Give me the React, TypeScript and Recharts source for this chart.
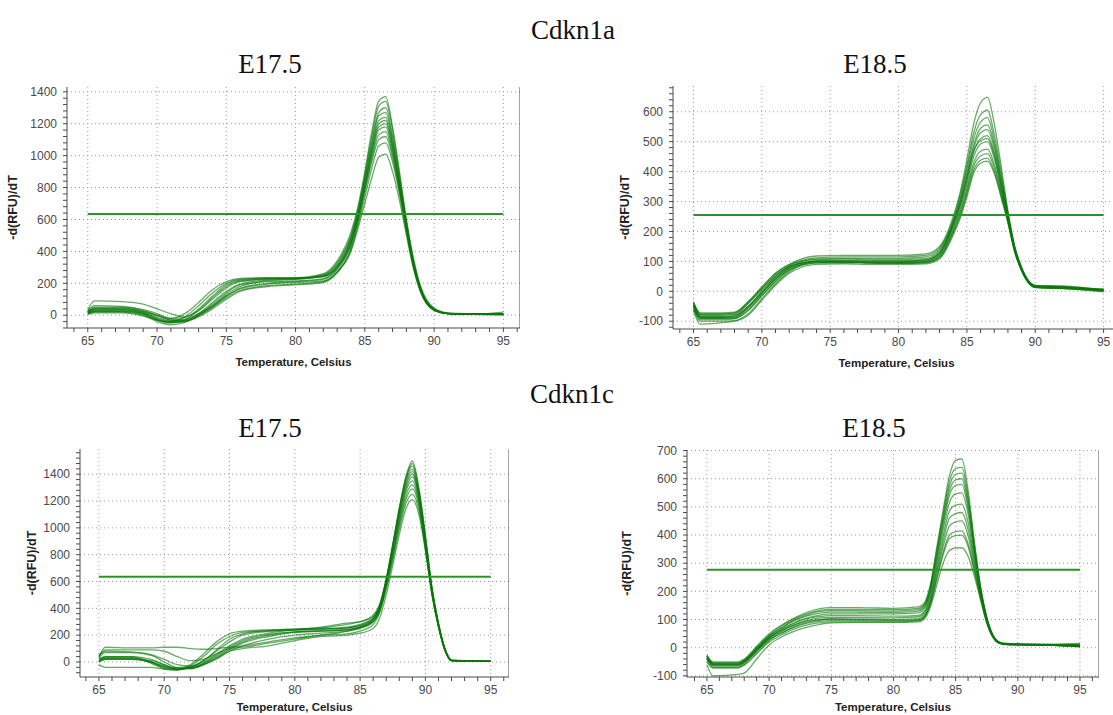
import React from "react";
import { LineChart, Line, XAxis, YAxis, ReferenceLine, CartesianGrid } from "recharts";

// Cdkn1a E17.5
const temps1aE17 = [65, 65.5, 67.5, 69, 70, 71, 72, 73, 74, 75, 76, 78, 80, 82, 83, 84, 84.5, 85, 85.5, 86, 86.5, 87, 87.5, 88, 88.5, 89, 90, 91, 93, 95];
const curves1aE17 = [
  [30, 60, 55, 30, 0, -20, 10, 80, 160, 210, 230, 235, 235, 260, 340, 520, 680, 900, 1150, 1340, 1370, 1180, 900, 600, 360, 190, 45, 15, 10, 8],
  [20, 45, 45, 20, -20, -40, -10, 60, 140, 200, 225, 232, 232, 255, 330, 500, 660, 880, 1120, 1310, 1340, 1160, 880, 590, 350, 180, 40, 12, 8, 6],
  [15, 35, 35, 10, -30, -50, -30, 30, 110, 180, 215, 228, 230, 250, 320, 490, 650, 860, 1090, 1270, 1300, 1120, 860, 580, 340, 175, 38, 12, 8, 5],
  [25, 50, 50, 35, 10, -20, -15, 40, 120, 190, 220, 230, 232, 248, 310, 480, 640, 850, 1070, 1250, 1270, 1100, 840, 570, 330, 170, 36, 10, 6, 5],
  [10, 25, 25, 10, -25, -45, -40, 0, 60, 130, 180, 215, 225, 245, 305, 470, 630, 830, 1050, 1220, 1240, 1080, 830, 560, 330, 170, 35, 10, 6, 4],
  [20, 40, 40, 25, 0, -30, -35, 10, 80, 150, 195, 220, 228, 240, 300, 460, 615, 820, 1030, 1200, 1220, 1060, 820, 555, 320, 165, 35, 12, 8, 20],
  [35, 90, 85, 70, 40, 10, -10, 30, 100, 170, 210, 225, 230, 245, 300, 455, 610, 810, 1020, 1180, 1200, 1050, 810, 550, 320, 160, 34, 10, 8, 10],
  [10, 20, 20, 0, -40, -60, -45, 0, 70, 140, 190, 210, 215, 230, 290, 445, 600, 800, 1000, 1160, 1180, 1030, 800, 545, 315, 160, 33, 10, 6, 4],
  [15, 30, 30, 15, -15, -35, -30, 10, 60, 120, 170, 200, 210, 225, 285, 440, 595, 790, 980, 1130, 1150, 1010, 790, 540, 315, 160, 33, 10, 7, 5],
  [20, 40, 40, 20, -5, -30, -25, 5, 50, 110, 155, 185, 195, 210, 270, 420, 580, 770, 960, 1100, 1120, 990, 775, 530, 310, 158, 32, 10, 6, 4],
  [10, 25, 25, 5, -30, -45, -40, -10, 40, 100, 150, 180, 190, 205, 265, 410, 560, 740, 920, 1060, 1080, 960, 760, 525, 305, 155, 32, 10, 6, 4],
  [5, 15, 15, -5, -30, -40, -35, -5, 50, 120, 165, 195, 205, 215, 270, 400, 540, 700, 860, 990, 1010, 900, 720, 500, 295, 150, 30, 10, 6, 5],
];

// Cdkn1a E18.5
const temps1aE18 = [65, 65.5, 67, 68, 69, 70, 71, 72, 73, 74, 76, 78, 80, 82, 83, 84, 84.5, 85, 85.5, 86, 86.5, 87, 87.5, 88, 88.5, 89, 90, 92, 95];
const curves1aE18 = [
  [-40, -80, -80, -78, -40, 10, 60, 90, 110, 118, 120, 120, 120, 125, 150, 250, 330, 440, 560, 630, 648, 560, 420, 270, 150, 80, 20, 18, 5],
  [-45, -85, -85, -82, -50, 0, 50, 85, 105, 112, 115, 115, 115, 120, 145, 240, 320, 420, 530, 590, 605, 525, 400, 262, 148, 78, 20, 16, 4],
  [-50, -90, -90, -88, -55, -5, 45, 80, 100, 108, 110, 110, 110, 115, 140, 235, 310, 410, 510, 565, 580, 505, 385, 258, 146, 78, 18, 15, 3],
  [-35, -75, -75, -72, -35, 15, 60, 88, 102, 106, 108, 106, 106, 110, 135, 230, 300, 395, 490, 545, 556, 490, 375, 254, 144, 76, 18, 14, 6],
  [-55, -95, -95, -92, -65, -15, 35, 72, 92, 100, 102, 100, 100, 105, 130, 225, 295, 385, 480, 530, 540, 478, 368, 250, 142, 75, 16, 14, 5],
  [-40, -78, -78, -75, -40, 5, 50, 82, 96, 100, 100, 98, 98, 102, 125, 220, 285, 372, 465, 510, 520, 462, 358, 246, 140, 74, 15, 12, 2],
  [-60, -100, -100, -98, -75, -25, 25, 65, 88, 95, 97, 96, 96, 100, 122, 212, 275, 360, 450, 492, 500, 445, 346, 242, 138, 72, 15, 12, 4],
  [-45, -85, -85, -82, -50, -5, 40, 75, 92, 98, 98, 96, 95, 98, 118, 205, 265, 345, 430, 468, 475, 425, 335, 238, 136, 72, 14, 10, 0],
  [-50, -90, -90, -90, -62, -15, 32, 70, 88, 95, 96, 94, 93, 96, 115, 200, 258, 335, 418, 452, 460, 414, 328, 235, 134, 70, 14, 10, -2],
  [-38, -72, -72, -70, -35, 10, 55, 82, 95, 98, 98, 95, 94, 96, 112, 195, 250, 325, 405, 438, 445, 402, 320, 232, 132, 70, 13, 10, 2],
  [-65, -110, -105, -100, -80, -30, 20, 60, 82, 90, 92, 90, 90, 92, 108, 188, 242, 315, 395, 428, 435, 394, 314, 228, 130, 68, 12, 9, 6],
  [-48, -88, -88, -86, -55, -8, 42, 78, 95, 102, 104, 102, 102, 106, 128, 222, 290, 378, 470, 503, 510, 455, 352, 244, 139, 73, 15, 12, 8],
];

// Cdkn1c E17.5
const temps1cE17 = [65, 65.5, 67.5, 69, 70, 71, 72, 73, 74, 75, 76, 78, 80, 82, 84, 85, 86, 86.5, 87, 87.5, 88, 88.5, 89, 89.5, 90, 90.5, 91, 91.5, 92, 95];
const curves1cE17 = [
  [20, 40, 40, 0, -40, -55, -20, 60, 150, 210, 230, 240, 245, 250, 260, 280, 330, 420, 620, 880, 1150, 1380, 1500, 1300, 950, 560, 290, 100, 15, 5],
  [40, 110, 105, 105, 110, 110, 100, 95, 100, 110, 120, 150, 180, 200, 230, 260, 320, 410, 600, 860, 1130, 1360, 1480, 1280, 930, 550, 285, 95, 12, 5],
  [0, 30, 30, -10, -50, -60, -30, 40, 130, 190, 220, 232, 240, 245, 255, 275, 325, 415, 610, 870, 1140, 1370, 1460, 1270, 920, 545, 282, 95, 12, 6],
  [30, 70, 70, 50, 0, -40, -35, 10, 90, 170, 210, 235, 245, 255, 280, 300, 350, 430, 620, 870, 1130, 1350, 1440, 1250, 910, 540, 280, 95, 12, 4],
  [10, 30, 30, -5, -45, -55, -40, 10, 80, 150, 200, 228, 238, 245, 255, 270, 320, 405, 600, 850, 1110, 1330, 1420, 1240, 900, 535, 278, 92, 10, 5],
  [50, 80, 75, 55, 20, -20, -30, 0, 60, 120, 170, 215, 240, 260, 290, 300, 340, 425, 610, 850, 1100, 1310, 1400, 1230, 890, 530, 275, 92, 10, 4],
  [20, 40, 40, 20, -20, -50, -50, -20, 30, 90, 140, 190, 220, 230, 240, 260, 310, 395, 590, 830, 1080, 1290, 1380, 1220, 885, 528, 272, 90, 10, 5],
  [-20, -40, -40, -40, -55, -60, -40, -20, 20, 80, 120, 170, 200, 215, 230, 250, 300, 390, 580, 810, 1060, 1270, 1350, 1200, 875, 520, 270, 90, 10, 5],
  [0, 20, 20, 10, -20, -50, -45, -10, 40, 100, 150, 200, 225, 235, 245, 260, 305, 385, 570, 800, 1040, 1240, 1320, 1180, 865, 515, 268, 88, 10, 5],
  [40, 90, 90, 90, 80, 40, 10, 20, 60, 100, 110, 140, 170, 200, 210, 230, 280, 370, 555, 780, 1020, 1210, 1290, 1160, 855, 510, 265, 88, 10, 5],
  [5, 25, 25, 0, -30, -45, -45, -10, 50, 110, 160, 205, 225, 230, 240, 255, 300, 375, 545, 760, 990, 1180, 1250, 1130, 840, 505, 262, 86, 10, 6],
  [10, 20, 20, 0, -35, -50, -50, -20, 30, 80, 100, 120, 160, 190, 200, 215, 250, 330, 500, 720, 950, 1140, 1210, 1100, 825, 500, 260, 85, 10, 5],
];

// Cdkn1c E18.5
const temps1cE18 = [65, 65.5, 67.5, 68, 69, 70, 71, 72, 73, 74, 75, 77, 80, 82, 82.5, 83, 83.5, 84, 84.5, 85, 85.5, 86, 86.5, 87, 87.5, 88, 88.5, 89, 92, 95];
const curves1cE18 = [
  [-25, -50, -50, -40, 5, 50, 80, 105, 125, 138, 142, 142, 140, 145, 160, 230, 360, 490, 610, 665, 670, 560, 380, 220, 110, 45, 20, 15, 12, 8],
  [-30, -55, -55, -45, 0, 45, 78, 102, 120, 132, 136, 136, 135, 140, 155, 225, 350, 475, 590, 636, 640, 540, 370, 215, 108, 44, 20, 15, 12, 10],
  [-35, -60, -60, -50, -5, 40, 72, 98, 116, 128, 132, 132, 130, 135, 150, 218, 340, 462, 572, 615, 620, 525, 360, 212, 106, 43, 19, 14, 12, 15],
  [-30, -55, -55, -45, 0, 42, 70, 95, 112, 122, 126, 126, 125, 130, 145, 212, 330, 450, 556, 596, 600, 510, 352, 208, 104, 42, 19, 14, 10, 5],
  [-40, -65, -65, -55, -10, 35, 65, 88, 105, 115, 120, 120, 120, 124, 140, 205, 320, 438, 540, 576, 580, 495, 345, 205, 102, 42, 18, 13, 10, 8],
  [-35, -60, -60, -50, -8, 36, 64, 86, 102, 110, 114, 114, 112, 115, 130, 195, 305, 420, 515, 546, 550, 475, 335, 200, 100, 41, 18, 13, 11, 6],
  [-40, -62, -62, -52, -12, 30, 58, 80, 96, 105, 108, 108, 106, 110, 125, 185, 290, 398, 485, 506, 510, 445, 318, 195, 98, 40, 18, 12, 10, 4],
  [-45, -70, -70, -60, -18, 25, 52, 74, 90, 98, 102, 102, 100, 103, 118, 175, 278, 378, 460, 476, 480, 420, 305, 190, 96, 40, 17, 12, 10, 10],
  [-30, -55, -55, -45, -5, 35, 60, 80, 94, 100, 102, 100, 98, 100, 112, 168, 265, 360, 432, 447, 450, 398, 292, 185, 94, 39, 17, 12, 10, 3],
  [-50, -72, -72, -62, -22, 20, 45, 66, 80, 88, 92, 92, 92, 95, 108, 160, 250, 340, 400, 412, 415, 370, 278, 180, 92, 38, 16, 12, 9, 6],
  [-35, -58, -58, -48, -10, 28, 52, 72, 86, 94, 96, 96, 95, 97, 110, 158, 245, 330, 388, 398, 400, 360, 272, 178, 90, 38, 16, 12, 9, 12],
  [-60, -100, -95, -90, -40, 10, 38, 58, 72, 82, 88, 90, 90, 92, 102, 148, 225, 300, 345, 354, 355, 325, 255, 170, 88, 37, 16, 11, 9, 4],
];

const xMajor = [65, 70, 75, 80, 85, 90, 95];
const yMajor1400 = [0, 200, 400, 600, 800, 1000, 1200, 1400];
const yMajor600 = [-100, 0, 100, 200, 300, 400, 500, 600];
const yMajor700 = [-100, 0, 100, 200, 300, 400, 500, 600, 700];

const GREEN = "#0a780a";
const AXIS = "#4a4a4a";
const SANS = "'Liberation Sans', Arial, sans-serif";

function steps(lo: number, hi: number, step: number) {
  const out: number[] = [];
  for (let v = Math.ceil(lo / step) * step; v <= hi + 1e-9; v += step) out.push(Math.round(v));
  return out;
}

type PanelProps = {
  left: number;
  top: number;
  width: number;
  height: number;
  axisWidth: number;
  marginTop: number;
  temps: number[];
  curves: number[][];
  xDomain: [number, number];
  yDomain: [number, number];
  yMajor: number[];
  yMinor: number;
  threshold: number;
  labelX: number;
  xLabelOffset: number;
  rightBorder: boolean;
};

const Panel = (p: PanelProps) => {
  const rows = p.temps.map((t, i) => {
    const r: Record<string, number> = { t };
    p.curves.forEach((c, j) => (r["c" + j] = c[i]));
    return r;
  });
  const xTicks = steps(p.xDomain[0], p.xDomain[1], 1);
  const yTicks = steps(p.yDomain[0], p.yDomain[1], p.yMinor);
  const tickStyle = { fill: AXIS, fontSize: 12, fontFamily: SANS };
  return (
    <div style={{ position: "absolute", left: p.left, top: p.top }}>
      <LineChart width={p.width} height={p.height} data={rows} margin={{ top: p.marginTop, right: 0, left: 0, bottom: 0 }}>
        <CartesianGrid stroke="#9a9a9a" strokeDasharray="1 3" verticalValues={xMajor} horizontalValues={p.yMajor} />
        <XAxis
          dataKey="t"
          type="number"
          domain={p.xDomain}
          allowDataOverflow
          ticks={xTicks}
          interval={0}
          tickFormatter={(v: number) => (v % 5 === 0 ? String(v) : "")}
          stroke={AXIS}
          tickSize={4}
          tickMargin={4}
          tick={tickStyle}
          height={40}
          label={{ value: "Temperature, Celsius", position: "insideBottom", offset: p.xLabelOffset, style: { fontWeight: "bold", fontSize: 11.5, fill: "#222", fontFamily: SANS } }}
        />
        <XAxis
          xAxisId="top"
          orientation="top"
          type="number"
          domain={p.xDomain}
          allowDataOverflow
          ticks={xTicks}
          interval={0}
          tickFormatter={() => ""}
          stroke={AXIS}
          tickSize={3}
          mirror
          height={0}
        />
        <YAxis
          type="number"
          domain={p.yDomain}
          allowDataOverflow
          ticks={yTicks}
          interval={0}
          tickFormatter={(v: number) => (p.yMajor.includes(v) ? String(v) : "")}
          stroke={AXIS}
          tickSize={4}
          tickMargin={6}
          tick={tickStyle}
          width={p.axisWidth}
          label={{ value: "-d(RFU)/dT", angle: -90, position: "insideLeft", offset: p.labelX, style: { textAnchor: "middle", fontWeight: "bold", fontSize: 12.5, fill: "#222", fontFamily: SANS } }}
        />
        {p.rightBorder && <ReferenceLine x={p.xDomain[1]} stroke={AXIS} ifOverflow="visible" />}
        {p.curves.map((_, j) => (
          <Line
            key={j}
            dataKey={"c" + j}
            type="monotone"
            stroke={GREEN}
            strokeOpacity={0.62}
            strokeWidth={1.3}
            dot={false}
            activeDot={false}
            isAnimationActive={false}
          />
        ))}
        <ReferenceLine
          segment={[
            { x: 65, y: p.threshold },
            { x: 95, y: p.threshold },
          ]}
          stroke="#2a942a"
          strokeWidth={2}
        />
      </LineChart>
    </div>
  );
};

const Title = ({ x, y, text }: { x: number; y: number; text: string }) => (
  <div
    style={{
      position: "absolute",
      left: x - 100,
      top: y - 16,
      width: 200,
      textAlign: "center",
      fontFamily: "'Liberation Serif', 'Times New Roman', serif",
      fontSize: 27,
      lineHeight: "32px",
      color: "#111",
    }}
  >
    {text}
  </div>
);

export default function App() {
  return (
    <div style={{ position: "absolute", left: 0, top: 0, width: 1113, height: 715, overflow: "hidden", background: "#fff" }}>
      <Title x={573} y={30} text="Cdkn1a" />
      <Title x={270} y={64} text="E17.5" />
      <Title x={875} y={64} text="E18.5" />
      <Title x={572} y={394} text="Cdkn1c" />
      <Title x={270} y={428} text="E17.5" />
      <Title x={874} y={428} text="E18.5" />
      <Panel left={0} top={80} width={520} height={288} axisWidth={67} marginTop={7}
        temps={temps1aE17} curves={curves1aE17} xDomain={[63.5, 96.2]} yDomain={[-80, 1430]}
        yMajor={yMajor1400} yMinor={40} threshold={635} labelX={13} xLabelOffset={2} rightBorder />
      <Panel left={600} top={80} width={520} height={289} axisWidth={73} marginTop={6}
        temps={temps1aE18} curves={curves1aE18} xDomain={[63.5, 96.2]} yDomain={[-126, 686]}
        yMajor={yMajor600} yMinor={20} threshold={255} labelX={25} xLabelOffset={2} rightBorder={false} />
      <Panel left={0} top={440} width={509} height={277} axisWidth={80} marginTop={9}
        temps={temps1cE17} curves={curves1cE17} xDomain={[63.55, 96.4]} yDomain={[-112, 1588]}
        yMajor={yMajor1400} yMinor={40} threshold={635} labelX={32} xLabelOffset={6} rightBorder />
      <Panel left={600} top={440} width={499} height={277} axisWidth={87} marginTop={10}
        temps={temps1cE18} curves={curves1cE18} xDomain={[63.4, 96.53]} yDomain={[-104, 702]}
        yMajor={yMajor700} yMinor={20} threshold={277} labelX={27} xLabelOffset={6} rightBorder />
    </div>
  );
}
